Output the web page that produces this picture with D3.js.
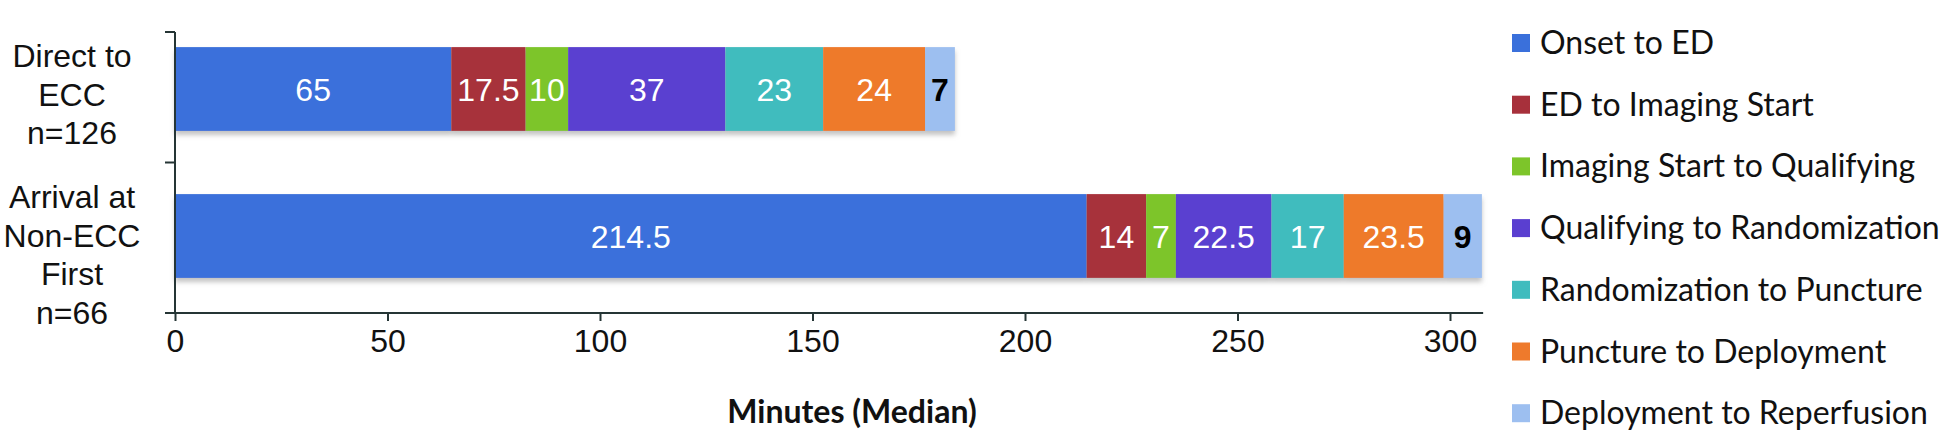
<!DOCTYPE html>
<html>
<head>
<meta charset="utf-8">
<script src="https://cdn.jsdelivr.net/npm/d3@7"></script>
<style>
  body { margin: 0; background: #fff; }
  svg { display: block; }
</style>
</head>
<body>
<div id="viz"></div>
<script>
// data
var groups = ["Direct to ECC n=126", "Arrival at Non-ECC First n=66"];
var groupLines = [["Direct to", "ECC", "n=126"], ["Arrival at", "Non-ECC", "First", "n=66"]];
var phases = ["Onset to ED", "ED to Imaging Start", "Imaging Start to Qualifying",
              "Qualifying to Randomization", "Randomization to Puncture",
              "Puncture to Deployment", "Deployment to Reperfusion"];
var directValues = [65, 17.5, 10, 37, 23, 24, 7];
var nonEccValues = [214.5, 14, 7, 22.5, 17, 23.5, 9];
var xTicks = [0, 50, 100, 150, 200, 250, 300];
var colors = ["#3a70db", "#a7303b", "#7dc52a", "#5a3fd0", "#3fbcbe", "#ee7a2c", "#9dbff0"];

var width = 1950, height = 433;

var svg = d3.select("#viz").append("svg")
    .attr("width", width)
    .attr("height", height);

var defs = svg.append("defs");
var shadow = defs.append("filter").attr("id", "shadow")
    .attr("x", "-2%").attr("y", "-10%").attr("width", "104%").attr("height", "130%");
shadow.append("feDropShadow")
    .attr("dx", 0).attr("dy", 4).attr("stdDeviation", 2.5)
    .attr("flood-color", "#999").attr("flood-opacity", 0.6);

var x = d3.scaleLinear().domain([0, 300]).range([175, 1450]);
var y = d3.scaleBand().domain(groups).range([15.5, 309.5])
    .paddingInner(0.43).paddingOuter(0.215);
var color = d3.scaleOrdinal().domain(phases).range(colors);

// stack the segments
var rows = groups.map(function (g, i) {
  var vals = i === 0 ? directValues : nonEccValues;
  var start = 0;
  return vals.map(function (v, j) {
    var seg = { group: g, phase: phases[j], value: v, x0: start, x1: start + v };
    start += v;
    return seg;
  });
});

var axisColor = "#253535";
var axisY = 313;

// bars
var barG = svg.append("g");
rows.forEach(function (segs) {
  var g = barG.append("g").attr("filter", "url(#shadow)");
  g.selectAll("rect")
    .data(segs)
    .enter().append("rect")
    .attr("x", function (d) { return x(d.x0); })
    .attr("y", function (d) { return y(d.group); })
    .attr("width", function (d) { return x(d.x1) - x(d.x0); })
    .attr("height", y.bandwidth())
    .style("fill", function (d) { return color(d.phase); });

  barG.selectAll(null)
    .data(segs)
    .enter().append("text")
    .attr("x", function (d) { return (x(d.x0) + x(d.x1)) / 2; })
    .attr("y", function (d) { return y(d.group) + y.bandwidth() / 2 + 12; })
    .attr("text-anchor", "middle")
    .style("font-family", "'Liberation Sans', Arial, sans-serif")
    .style("font-size", "32px")
    .style("font-weight", function (d) { return d.phase === phases[6] ? "bold" : "normal"; })
    .style("fill", function (d) { return d.phase === phases[6] ? "#000" : "#fff"; })
    .text(function (d) { return d.value; });
});

// y axis line with its ticks
svg.append("line")
  .attr("x1", x(0)).attr("x2", x(0))
  .attr("y1", 32).attr("y2", axisY)
  .style("stroke", axisColor).style("stroke-width", 2);
[32, (y(groups[0]) + y.bandwidth() + y(groups[1])) / 2].forEach(function (ty) {
  svg.append("line")
    .attr("x1", x(0) - 10).attr("x2", x(0))
    .attr("y1", ty).attr("y2", ty)
    .style("stroke", axisColor).style("stroke-width", 2);
});

// x axis
var xAxis = d3.axisBottom(x).tickValues(xTicks).tickSize(8).tickSizeOuter(0);
var xg = svg.append("g")
    .attr("transform", "translate(0," + axisY + ")")
    .call(xAxis);
xg.select(".domain").remove();
xg.append("line")
  .attr("x1", x(0) - 10).attr("x2", x(307.8))
  .style("stroke", axisColor).style("stroke-width", 2);
xg.selectAll(".tick line").style("stroke", axisColor).style("stroke-width", 2);
xg.selectAll(".tick text")
  .attr("y", 16)
  .style("font-family", "'Liberation Sans', Arial, sans-serif")
  .style("font-size", "32px")
  .style("fill", "#111");

svg.append("text")
  .attr("x", 852).attr("y", 423)
  .attr("text-anchor", "middle")
  .style("font-family", "Lato, sans-serif")
  .style("font-weight", "bold")
  .style("font-size", "32px")
  .style("fill", "#111")
  .text("Minutes (Median)");

// group labels
var firstOffset = [-22, -28];
groupLines.forEach(function (lines, i) {
  var cy = y(groups[i]) + y.bandwidth() / 2;
  var t = svg.append("text")
    .attr("text-anchor", "middle")
    .style("font-family", "'Liberation Sans', Arial, sans-serif")
    .style("font-size", "32px")
    .style("fill", "#111");
  lines.forEach(function (l, k) {
    t.append("tspan")
      .attr("x", 72)
      .attr("y", cy + firstOffset[i] + k * 38.5)
      .text(l);
  });
});

// legend
var legend = svg.append("g").attr("transform", "translate(1512,0)");
var item = legend.selectAll("g")
    .data(phases)
    .enter().append("g")
    .attr("transform", function (d, i) { return "translate(0," + (43 + i * 61.7) + ")"; });
item.append("rect")
  .attr("x", 0).attr("y", -9)
  .attr("width", 18).attr("height", 18)
  .style("fill", function (d) { return color(d); });
item.append("text")
  .attr("x", 28).attr("y", 11)
  .style("font-family", "Lato, sans-serif")
  .style("font-size", "32px")
  .style("fill", "#111")
  .text(function (d) { return d; });
</script>
</body>
</html>
